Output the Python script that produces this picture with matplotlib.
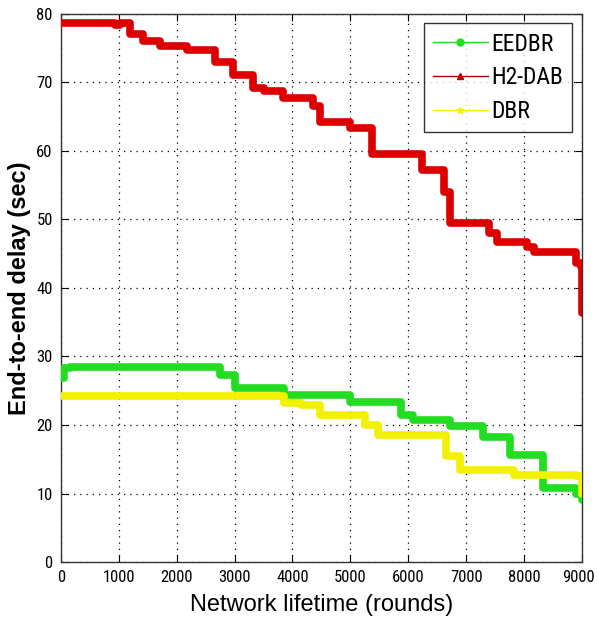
import numpy as np
import matplotlib
matplotlib.use("Agg")
import matplotlib.pyplot as plt
from matplotlib.lines import Line2D
from matplotlib import font_manager
import matplotlib.transforms as mtransforms

# Step breakpoints (rounds) and delay values (sec)
eedbr_x = [0, 60, 150, 2550, 2750, 3000, 3850, 5000, 5870, 6090, 6730, 7300, 7760, 8320, 8900, 9000]
eedbr_y = [26.8, 28.3, 28.5, 28.5, 27.3, 25.4, 24.4, 23.4, 21.5, 20.7, 19.8, 18.3, 15.6, 10.8, 10.0, 9.0]

h2dab_x = [0, 940, 1020, 1190, 1420, 1710, 2180, 2660, 2980, 3320, 3500, 3840, 4360, 4480, 5000, 5380,
           6240, 6610, 6730, 7400, 7540, 8060, 8170, 8900, 8980, 9000]
h2dab_y = [78.7, 78.4, 78.7, 77.0, 76.1, 75.3, 74.7, 73.0, 71.1, 69.2, 68.7, 67.7, 66.5, 64.2, 63.3, 59.6,
           57.2, 54.0, 49.5, 48.0, 46.7, 46.0, 45.3, 43.6, 43.0, 36.3]

dbr_x = [0, 3850, 4140, 4480, 5250, 5470, 6440, 6650, 6900, 7830, 8900, 9000]
dbr_y = [24.2, 23.2, 22.9, 21.5, 20.0, 18.5, 18.5, 15.5, 13.4, 12.7, 12.5, 10.0]

legend_labels = ["EEDBR", "H2-DAB", "DBR"]
colors = ["#22dd22", "#dd0000", "#f2f200"]
markers = ["o", "^", "*"]

xticks = list(range(0, 9001, 1000))
yticks = list(range(0, 81, 10))

names = {f.name for f in font_manager.fontManager.ttflist}
narrow = None
for cand in ['Liberation Sans Narrow', 'DejaVu Sans Condensed', 'Roboto Condensed', 'Open Sans Condensed']:
    if cand in names:
        narrow = cand
        break
tick_family = [narrow, 'Liberation Sans', 'DejaVu Sans'] if narrow else ['Liberation Sans', 'DejaVu Sans']
plt.rcParams['font.family'] = tick_family

fig = plt.figure(figsize=(5.98, 6.28), dpi=100)
ax = fig.add_axes([0.102, 0.105, 0.871, 0.873])

series = [(eedbr_x, eedbr_y), (h2dab_x, h2dab_y), (dbr_x, dbr_y)]
for (xs, ys), c in zip(series, colors):
    ax.plot(xs, ys, drawstyle='steps-post', color=c, lw=5.5, solid_joinstyle='round',
            solid_capstyle='round', zorder=3)

ax.set_xlim(0, 9000)
ax.set_ylim(0, 80)
ax.set_xticks(xticks)
ax.set_yticks(yticks)
tsize = 12 if narrow else 11.5
ax.tick_params(direction='in', length=5, labelsize=tsize, top=True, right=True, pad=6)
ax.grid(True, linestyle=(0, (1, 4)), color='black', linewidth=0.9)
for s in ax.spines.values():
    s.set_linewidth(1.0)
    s.set_color('#333333')

# nudge last x tick label inward slightly so it stays on the canvas
lbl = ax.get_xticklabels()[-1]
lbl.set_transform(lbl.get_transform() + mtransforms.ScaledTranslation(-3 / 100, 0, fig.dpi_scale_trans))

ax.set_xlabel("Network lifetime (rounds)", fontsize=17, family=['Liberation Sans', 'DejaVu Sans'], labelpad=6)
ax.set_ylabel("End-to-end delay (sec)", fontsize=17, fontweight='bold', family=['Liberation Sans', 'DejaVu Sans'], labelpad=4)

handles = [Line2D([0], [0], color=c, marker=m, lw=1, markersize=5, markerfacecolor=c)
           for c, m in zip(colors, markers)]
handles[1] = Line2D([0], [0], color="#aa0000", marker="^", lw=1, markersize=5, markerfacecolor="#dd0000")
leg = ax.legend(handles, legend_labels, loc='upper right', fontsize=17 if narrow else 15, frameon=True, fancybox=False,
                edgecolor='black', handlelength=2.3, borderpad=0.4, labelspacing=0.45, handletextpad=0.15,
                borderaxespad=0.4)
leg.get_frame().set_linewidth(1.0)

fig.savefig("out.png", dpi=100)
